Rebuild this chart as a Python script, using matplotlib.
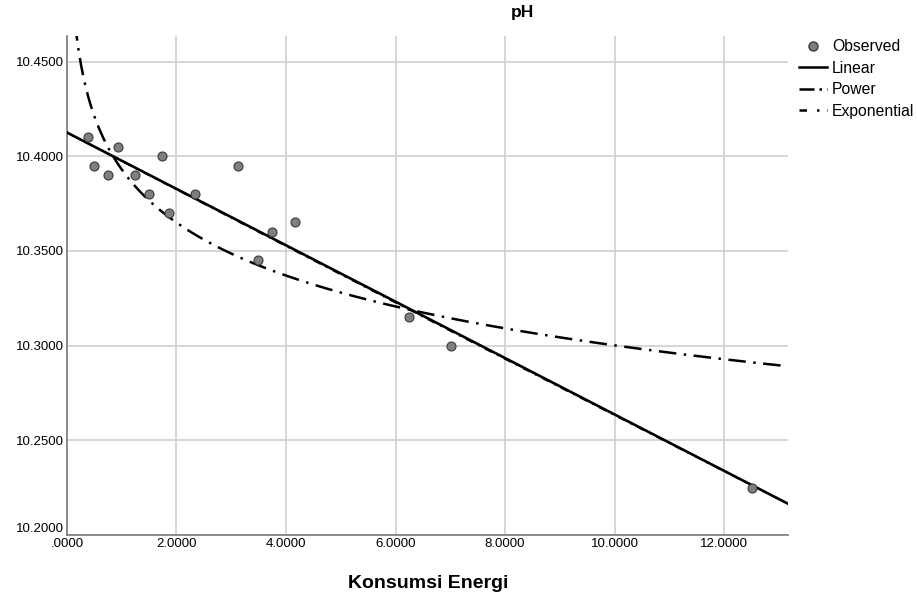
import numpy as np
import matplotlib
matplotlib.use('Agg')
import matplotlib.pyplot as plt
from matplotlib.lines import Line2D

plt.rcParams['font.family'] = ['Liberation Sans', 'DejaVu Sans']

# data
konsumsi = [0.38, 0.49, 0.75, 0.93, 1.24, 1.50, 1.73, 1.86, 2.34, 3.12,
            3.49, 3.74, 4.16, 6.24, 7.01, 12.50]
ph = [10.410, 10.395, 10.390, 10.405, 10.390, 10.380, 10.400, 10.370, 10.380, 10.395,
      10.345, 10.360, 10.365, 10.315, 10.300, 10.225]

# model coefficients (estimated from the drawn curves)
lin_b0, lin_b1 = 10.4125, -0.01489
pow_b0, pow_b1 = 10.393, -0.0039
exp_b0, exp_b1 = 10.4125, -0.001444

x_ticks = [0, 2, 4, 6, 8, 10, 12]
x_tick_labels = ['.0000', '2.0000', '4.0000', '6.0000', '8.0000', '10.0000', '12.0000']
y_ticks = [10.20, 10.25, 10.30, 10.35, 10.40, 10.45]

fig = plt.figure(figsize=(9.17, 5.99), dpi=100)
ax = fig.add_axes([0.073, 0.107, 0.786, 0.833])

xmin, xmax = 0, 13.16
ymin, ymax = 10.2, 10.4635

xs = np.linspace(xmin, xmax, 400)
xp = np.linspace(0.15, xmax, 600)

# exponential fit lies almost exactly under the linear one
ax.plot(xs, exp_b0 * np.exp(exp_b1 * xs), color='black', lw=1.4,
        dashes=(4, 3, 1, 3), zorder=3)
ax.plot(xs, lin_b0 + lin_b1 * xs, color='black', lw=1.9, zorder=4)
ax.plot(xp, pow_b0 * xp ** pow_b1, color='black', lw=1.8,
        dashes=(7, 3, 1, 3), zorder=4)
ax.scatter(konsumsi, ph, s=42, color='#7f7f7f', edgecolor='#3a3a3a',
           linewidth=0.8, zorder=5)

ax.set_xlim(xmin, xmax)
ax.set_ylim(ymin, ymax)
ax.set_xticks(x_ticks)
ax.set_xticklabels(x_tick_labels)
ax.set_yticks(y_ticks)
ax.set_yticklabels(['%.4f' % v for v in y_ticks])
ax.tick_params(length=0, labelsize=9.5, pad=2)
ax.get_yticklabels()[0].set_va('bottom')
ax.grid(True, color='#d0d0d0', lw=1.2)
ax.set_axisbelow(True)
for s in ['top', 'right']:
    ax.spines[s].set_visible(False)
for s in ['left', 'bottom']:
    ax.spines[s].set_color('#7a7a7a')
    ax.spines[s].set_linewidth(1.2)

fig.text(522 / 917, 1 - 12 / 599, 'pH', ha='center', va='center',
         fontsize=12.5, fontweight='bold')
fig.text(428 / 917, 1 - 583 / 599, 'Konsumsi Energi', ha='center', va='center',
         fontsize=14, fontweight='bold')

handles = [
    Line2D([], [], ls='none', marker='o', markersize=6.5, markerfacecolor='#7f7f7f',
           markeredgecolor='#3a3a3a'),
    Line2D([], [], color='black', lw=1.8),
    Line2D([], [], color='black', lw=1.8, dashes=(6, 2, 1, 2)),
    Line2D([], [], color='black', lw=1.8, dashes=(3, 4, 1, 3)),
]
fig.legend(handles, ['Observed', 'Linear', 'Power', 'Exponential'],
           loc='upper left', bbox_to_anchor=(799 / 917, 1 - 39 / 599),
           frameon=False, fontsize=11.3, handlelength=1.8, handletextpad=0.3,
           labelspacing=0.42, borderaxespad=0, borderpad=0)

fig.savefig('out.png', dpi=100)
